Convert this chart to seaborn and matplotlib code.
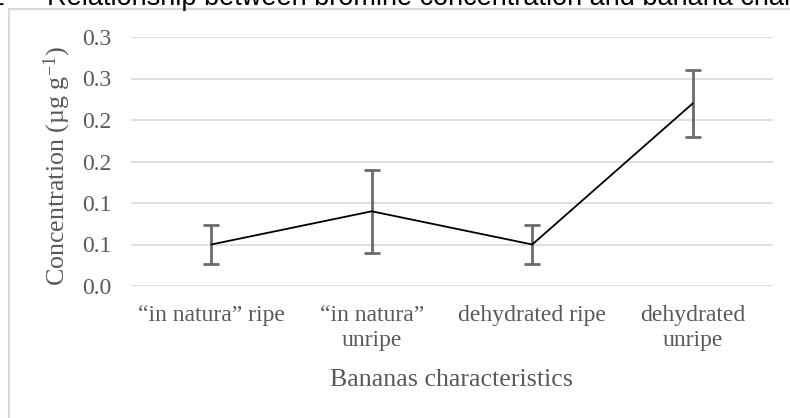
import matplotlib
matplotlib.use('Agg')
import matplotlib.pyplot as plt
import seaborn as sns
import pandas as pd
from matplotlib.patches import Rectangle

# data
categories = ['\u201cin natura\u201d ripe', '\u201cin natura\u201d\nunripe',
              'dehydrated ripe', 'dehydrated\nunripe']
concentration = [0.05, 0.09, 0.05, 0.22]
error = [0.023, 0.05, 0.023, 0.04]
y_ticks = [0.0, 0.05, 0.10, 0.15, 0.20, 0.25, 0.30]
y_tick_labels = ['0.0', '0.1', '0.1', '0.2', '0.2', '0.3', '0.3']

sns.set_style('white')
plt.rcParams['font.family'] = ['Liberation Serif', 'DejaVu Serif']
plt.rcParams['mathtext.fontset'] = 'custom'
plt.rcParams['mathtext.rm'] = 'Liberation Serif'
plt.rcParams['mathtext.it'] = 'Liberation Serif:italic'

df = pd.DataFrame({'pos': range(len(categories)), 'conc': concentration})

W, H = 790, 418
fig = plt.figure(figsize=(W / 100, H / 100), dpi=100)
ax = fig.add_axes([131 / W, 1 - 286 / H, 642 / W, 249 / H])

# chart frame (only top/left edges are visible in the crop)
fig.patches.append(Rectangle((9 / W, -0.1), 1.2, (H - 9) / H + 0.1,
                             transform=fig.transFigure, fill=False,
                             edgecolor='#d9d9d9', linewidth=1.5))

ax.errorbar(df['pos'], df['conc'], yerr=error, fmt='none', ecolor='#6b6b6b',
            elinewidth=2, capsize=6, capthick=2, zorder=3)
sns.lineplot(data=df, x='pos', y='conc', color='black', linewidth=1.3,
             ax=ax, zorder=4)

ax.set_xlim(-0.5, len(categories) - 0.5)
ax.set_ylim(0, 0.30)
ax.set_yticks(y_ticks)
ax.set_yticklabels(y_tick_labels)
ax.set_xticks(range(len(categories)))
ax.set_xticklabels(categories, linespacing=1.2)
ax.yaxis.grid(True, color='#d9d9d9', linewidth=1.2)
ax.set_axisbelow(True)
for s in ax.spines.values():
    s.set_visible(False)
ax.tick_params(axis='both', length=0, labelsize=17, labelcolor='#595959')
ax.tick_params(axis='x', pad=14)
ax.tick_params(axis='y', pad=14)

ax.set_xlabel('Bananas characteristics', fontsize=18.7, color='#595959',
              labelpad=13)
ax.set_ylabel('Concentration (\u00b5g g$^{-1}$)', fontsize=18.7,
              color='#595959')
ax.yaxis.set_label_coords(-0.090, 0.48)

# title is cut off at the top of the image
title_kw = dict(family=['Liberation Sans', 'DejaVu Sans'], fontsize=19.5,
                color='black', va='baseline')
fig.text(39.5 / W, 1 - 5 / H, 'Figure 2 \u2014', ha='right', **title_kw)
fig.text(47 / W, 1 - 5 / H,
         'Relationship between bromine concentration and banana characteristics',
         ha='left', **title_kw)

fig.savefig('out.png', dpi=100)
